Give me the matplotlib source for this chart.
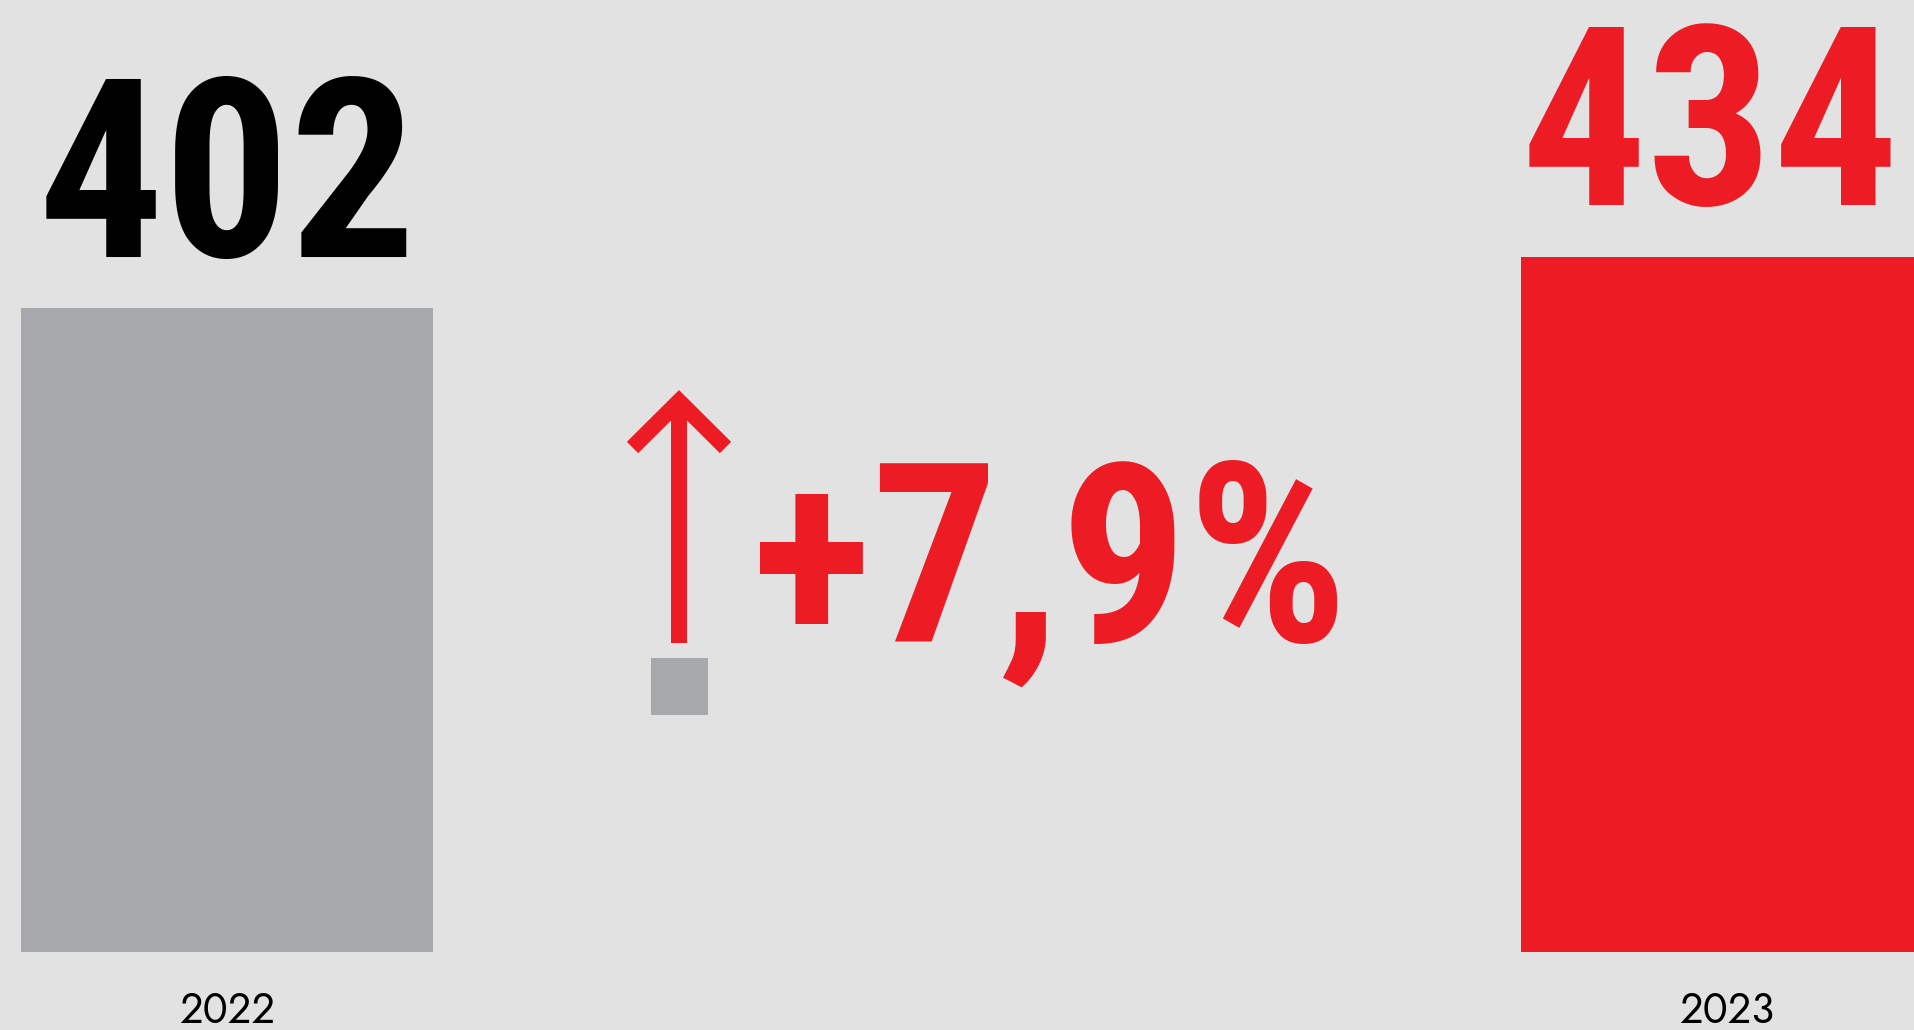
import matplotlib
matplotlib.use("Agg")
import matplotlib.pyplot as plt
import matplotlib.patches as patches
from matplotlib.lines import Line2D
from matplotlib.transforms import IdentityTransform
from matplotlib import font_manager

# ── Data ──────────────────────────────────────────────────────────────
years = ["2022", "2023"]
values = [402, 434]
change_label = "+7,9%"

# ── Style ─────────────────────────────────────────────────────────────
BG = "#E2E2E2"
GRAY = "#A8A9AC"
RED = "#ED1C24"


def pick_font(candidates):
    installed = {f.name for f in font_manager.fontManager.ttflist}
    for name in candidates:
        if name in installed:
            return name
    return "DejaVu Sans"


BIG_FONT = pick_font(["Roboto Condensed", "Saira Condensed", "Bebas Neue"])
YEAR_FONT = pick_font(["Jost", "Questrial", "Didact Gothic", "Lato"])

W, H = 1915, 1030
fig = plt.figure(figsize=(W / 100, H / 100), dpi=100, facecolor=BG)

# axes span the whole figure; scales chosen so bars land where they should
ax = fig.add_axes([0, 0, 1, 1])
ax.set_facecolor(BG)
px_per_unit = 644 / 402
base_px = 78
ax.set_ylim(-base_px / px_per_unit, (H - base_px) / px_per_unit)
ax.set_xlim(-227 / 1500, (W - 227) / 1500)
ax.axis("off")

xpos = list(range(len(years)))
bar_colors = [GRAY, RED]
label_colors = ["black", RED]
label_shift = [0, -12]   # points; the 2023 value sits a bit left of its bar centre
ax.bar(xpos, values, width=412 / 1500, color=bar_colors, linewidth=0)

for x, v, yr, lc, dx in zip(xpos, values, years, label_colors, label_shift):
    ax.annotate(str(v), xy=(x, v), xytext=(dx, 37), textcoords="offset points",
                ha="center", va="baseline", fontsize=180, fontweight="bold",
                color=lc, family=BIG_FONT)
    ax.annotate(yr, xy=(x, 0), xytext=(0, -51), textcoords="offset points",
                ha="center", va="baseline", fontsize=30, color="black",
                family=YEAR_FONT)

# ── Change indicator (arrow + small gray swatch + percentage) ────────
px = IdentityTransform()
shaft = Line2D([679, 679], [H - 405, H - 643], lw=11.5, color=RED,
               solid_capstyle="butt", transform=px)
head = Line2D([632.5, 679, 725.5], [H - 447.5, H - 401.3, H - 447.5],
              lw=11.5, color=RED, solid_capstyle="butt",
              solid_joinstyle="miter", transform=px)
fig.add_artist(shaft)
fig.add_artist(head)

fig.patches.append(patches.Rectangle((651 / W, (H - 715) / H), 57 / W, 57 / H,
                                     transform=fig.transFigure,
                                     facecolor=GRAY, edgecolor="none"))

fig.text(752 / W, (H - 642) / H, change_label, ha="left", va="baseline",
         fontsize=181, fontweight="bold", color=RED, family=BIG_FONT)

fig.savefig("out.png", dpi=100, facecolor=BG)
